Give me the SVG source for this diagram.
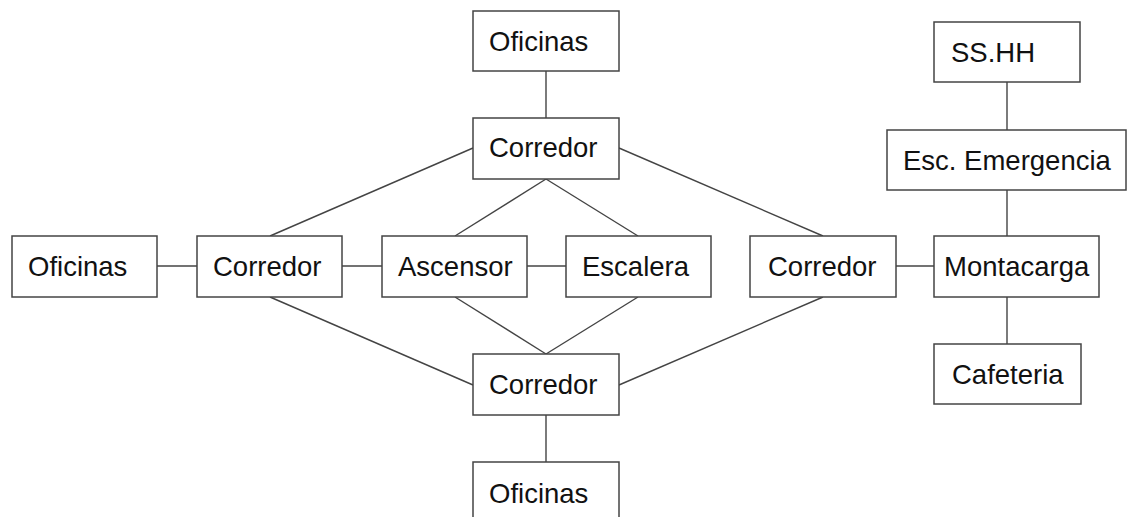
<svg xmlns="http://www.w3.org/2000/svg" width="1128" height="517" viewBox="0 0 1128 517">
<style>
rect{fill:#fff;stroke:#444;stroke-width:1.5}
text{font-family:"Liberation Sans",Arial,sans-serif;font-size:27.5px;fill:#111}
#connectors line{stroke:#444;stroke-width:1.4}
</style>
<rect x="0" y="0" width="1128" height="517" style="stroke:none"/>
<g id="connectors">
<line x1="546" y1="71" x2="546" y2="118"/>
<line x1="546" y1="415" x2="546" y2="462"/>
<line x1="157" y1="266" x2="197" y2="266"/>
<line x1="342" y1="266" x2="382" y2="266"/>
<line x1="527" y1="266" x2="566" y2="266"/>
<line x1="896" y1="266" x2="934" y2="266"/>
<line x1="1007" y1="82" x2="1007" y2="130"/>
<line x1="1007" y1="190" x2="1007" y2="236"/>
<line x1="1007" y1="297" x2="1007" y2="344"/>
<line x1="473" y1="148" x2="270" y2="236"/>
<line x1="619" y1="148" x2="823" y2="236"/>
<line x1="546" y1="179" x2="455" y2="236"/>
<line x1="546" y1="179" x2="638" y2="236"/>
<line x1="455" y1="297" x2="546" y2="354"/>
<line x1="638" y1="297" x2="546" y2="354"/>
<line x1="270" y1="297" x2="473" y2="385"/>
<line x1="823" y1="297" x2="619" y2="385"/>
</g>
<g id="oficinas-top"><rect x="473" y="11" width="146" height="60"/><text x="489" y="51">Oficinas</text></g>
<g id="corredor-top"><rect x="473" y="118" width="146" height="61"/><text x="489" y="157">Corredor</text></g>
<g id="oficinas-left"><rect x="12" y="236" width="145" height="61"/><text x="28" y="276">Oficinas</text></g>
<g id="corredor-left"><rect x="197" y="236" width="145" height="61"/><text x="213" y="276">Corredor</text></g>
<g id="ascensor"><rect x="382" y="236" width="145" height="61"/><text x="398" y="276">Ascensor</text></g>
<g id="escalera"><rect x="566" y="236" width="145" height="61"/><text x="582" y="276">Escalera</text></g>
<g id="corredor-right"><rect x="750" y="236" width="146" height="61"/><text x="768" y="276">Corredor</text></g>
<g id="montacarga"><rect x="934" y="236" width="165" height="61"/><text x="944" y="276">Montacarga</text></g>
<g id="sshh"><rect x="934" y="22" width="146" height="60"/><text x="951" y="62">SS.HH</text></g>
<g id="esc-emergencia"><rect x="887" y="130" width="239" height="60"/><text x="903" y="170">Esc. Emergencia</text></g>
<g id="cafeteria"><rect x="934" y="344" width="147" height="60"/><text x="952" y="384">Cafeteria</text></g>
<g id="corredor-bottom"><rect x="473" y="354" width="146" height="61"/><text x="489" y="394">Corredor</text></g>
<g id="oficinas-bottom"><rect x="473" y="462" width="146" height="61"/><text x="489" y="503">Oficinas</text></g>
</svg>
